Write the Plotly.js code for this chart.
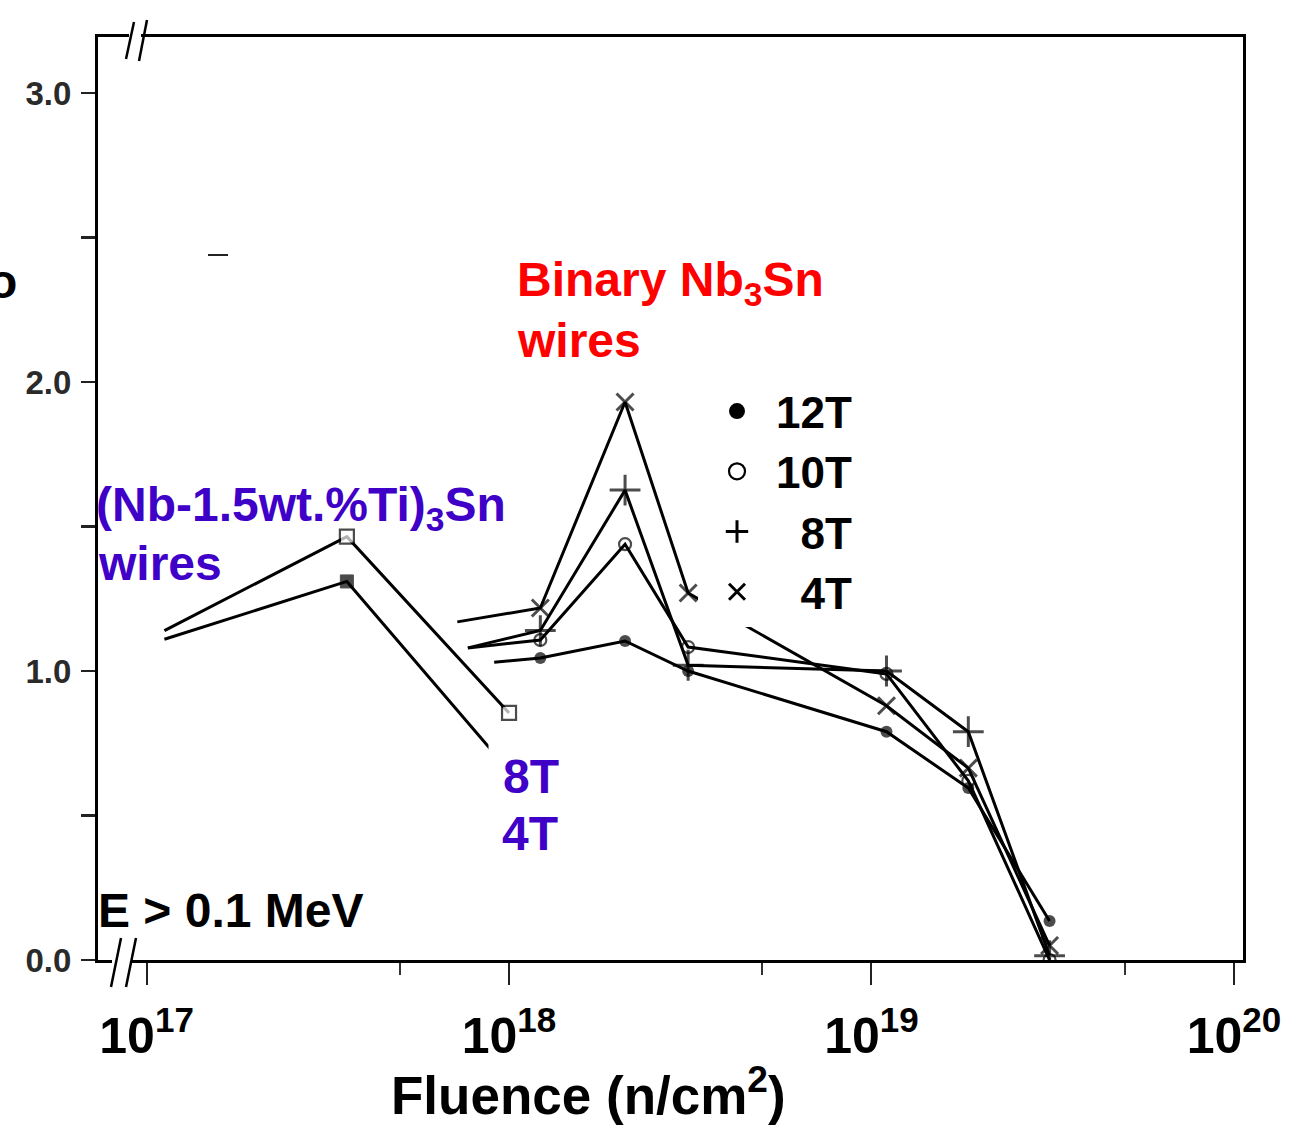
<!DOCTYPE html>
<html>
<head>
<meta charset="utf-8">
<script src="https://cdn.plot.ly/plotly-3.0.1.min.js"></script>
<style>
  html, body { margin: 0; padding: 0; background: #fff; }
  #chart { width: 1290px; height: 1128px; }
</style>
</head>
<body>
<div id="chart"></div>
<script>
// ---- (Nb-1.5wt.%Ti)3Sn wires: Jc ratio vs fluence ----
const tiFields = ['8T', '4T'];
const tiLeadFluence = [1.12e17, 1.12e17];   // where each curve enters the frame
const tiLeadValue = [1.14, 1.11];
const tiFluence = [3.57e17, 1.0e18];
const ti8T = [1.465, 0.855];
const ti4T = [1.31, 0.655];

// ---- Binary Nb3Sn wires ----
const binFields = ['12T', '10T', '8T', '4T'];
const binLeadFluence = [9.1e17, 7.7e17, 7.7e17, 7.2e17];
const binLeadValue = [1.03, 1.08, 1.08, 1.17];
const binFluence = [1.22e18, 2.09e18, 3.12e18, 1.10e19, 1.85e19, 3.10e19];
const bin12T = [1.045, 1.104, 1.00, 0.79, 0.595, 0.135];
const bin10T = [1.107, 1.439, 1.083, 0.99, 0.62, 0.0];
const bin8T = [1.14, 1.626, 1.02, 1.00, 0.79, 0.015];
const bin4T = [1.218, 1.931, 1.27, 0.88, 0.664, 0.05];

// ---- axis ticks ----
const xMajor = [1e17, 1e18, 1e19, 1e20];
const xMajorText = ['10<sup>17</sup>', '10<sup>18</sup>', '10<sup>19</sup>', '10<sup>20</sup>'];
const xMinor = [5e17, 5e18, 5e19];
const yTicks = [0, 0.5, 1.0, 1.5, 2.0, 2.5, 3.0];
const yTickText = ['0.0', '', '1.0', '', '2.0', '', '3.0'];

const FONT = 'Liberation Sans, Arial, Helvetica, sans-serif';
const INK = '#000';
const RED = '#ff0000';
const VIOLET = '#3f00c8';

const binMarkers = {
  '12T': { symbol: 'circle', size: 12, color: INK, line: { width: 0 } },
  '10T': { symbol: 'circle-open', size: 12, color: INK, line: { width: 2.2, color: INK } },
  '8T':  { symbol: 'cross-thin-open', size: 22, color: INK, line: { width: 3, color: INK } },
  '4T':  { symbol: 'x-thin-open', size: 17, color: INK, line: { width: 3, color: INK } }
};
const tiMarkers = {
  '8T': { symbol: 'square', size: 14, color: '#fff', line: { width: 2.2, color: INK } },
  '4T': { symbol: 'square', size: 13, color: INK, line: { width: 1, color: INK } }
};

const traces = [];

// lead-in + measured points, marker hidden on the entry point
function addSeries(name, leadX, leadY, xs, ys, marker) {
  const x = [leadX].concat(xs);
  const y = [leadY].concat(ys);
  const sizes = [0].concat(xs.map(() => marker.size));
  traces.push({
    type: 'scatter', mode: 'lines+markers', name: name, showlegend: false,
    x: x, y: y,
    line: { color: INK, width: 3 },
    marker: Object.assign({}, marker, { size: sizes }),
    hoverinfo: 'x+y+name'
  });
}

addSeries('(Nb-1.5wt.%Ti)3Sn 8T', tiLeadFluence[0], tiLeadValue[0], tiFluence, ti8T, tiMarkers['8T']);
addSeries('(Nb-1.5wt.%Ti)3Sn 4T', tiLeadFluence[1], tiLeadValue[1], tiFluence, ti4T, tiMarkers['4T']);

const binSeries = [bin12T, bin10T, bin8T, bin4T];
binFields.forEach((f, i) => {
  addSeries('Binary Nb3Sn ' + f, binLeadFluence[i], binLeadValue[i], binFluence, binSeries[i], binMarkers[f]);
});

// key entries for the binary-wire field symbols (drawn at the largest key size)
const keyNames = ['12T', '10T', '\u20078T', '\u20074T'];
binFields.forEach((f, i) => {
  const m = Object.assign({}, binMarkers[f], { size: 16 });
  traces.push({
    type: 'scatter', mode: 'markers', name: keyNames[i], showlegend: true,
    x: [null], y: [null], marker: m, hoverinfo: 'skip'
  });
});

// pixel helpers for layout decorations (plot area: x 98..1243, y 37..960)
const L = 98, R = 1243, T = 37, B = 960;
const PX = (x) => (x - L) / (R - L);
const PY = (y) => (B - y) / (B - T);

function label(text, x, y, color, size, opts) {
  return Object.assign({
    xref: 'paper', yref: 'paper', x: PX(x), y: PY(y),
    xanchor: 'left', yanchor: 'middle', showarrow: false, align: 'left',
    text: text, font: { family: FONT, size: size, color: color, weight: 'bold' }
  }, opts || {});
}

const annotations = [
  label('Binary Nb<sub>3</sub>Sn', 515, 283, RED, 48),
  label('wires', 515, 340, RED, 48),
  label('(Nb-1.5wt.%Ti)<sub>3</sub>Sn', 94, 508, VIOLET, 48),
  label('wires', 96, 563, VIOLET, 48),
  label('8T', 488, 776, VIOLET, 48, { bgcolor: '#fff', borderpad: 14 }),
  label('4T', 500, 833, VIOLET, 48),
  label('E > 0.1 MeV', 96, 910, INK, 48),
  label('o', 19, 281, INK, 48, { xanchor: 'right' }),
  label('Fluence (n/cm<sup>2</sup>)', 588, 1091, INK, 53, { xanchor: 'center', align: 'center' })
];

function seg(x0, y0, x1, y1, w, c) {
  return { type: 'line', xref: 'paper', yref: 'paper', layer: 'above',
           x0: PX(x0), y0: PY(y0), x1: PX(x1), y1: PY(y1),
           line: { color: c || INK, width: w || 2.5 } };
}
function blank(x0, y0, x1, y1) {
  return { type: 'rect', xref: 'paper', yref: 'paper', layer: 'above',
           x0: PX(x0), y0: PY(y0), x1: PX(x1), y1: PY(y1),
           fillcolor: '#fff', line: { width: 0 } };
}

const shapes = [
  // axis break on the top frame
  blank(129, 28, 141, 46),
  seg(126, 59, 134, 22), seg(139, 61, 147, 20),
  // axis break on the fluence axis
  blank(112, 955, 131, 968),
  seg(111, 987, 121, 938), seg(126, 987, 136, 938),
  // stray pen mark
  seg(208, 255, 228, 255, 2, '#222')
];

const layout = {
  width: 1290, height: 1128,
  margin: { l: L, r: 1290 - R, t: T, b: 1128 - B, pad: 0 },
  paper_bgcolor: '#fff', plot_bgcolor: '#fff',
  font: { family: FONT, color: INK },
  showlegend: true,
  legend: {
    x: PX(698), xanchor: 'left', y: PY(376), yanchor: 'top',
    bgcolor: '#fff', borderwidth: 0, itemwidth: 68, itemclick: false, itemdoubleclick: false,
    font: { family: FONT, size: 44, color: INK, weight: 'bold' }
  },
  xaxis: {
    type: 'log', range: [16.866, 20.025],
    showline: true, linecolor: INK, linewidth: 3, mirror: true,
    showgrid: false, zeroline: false,
    ticks: 'outside', ticklen: 22, tickwidth: 2, tickcolor: '#222',
    tickmode: 'array', tickvals: xMajor, ticktext: xMajorText,
    ticklabelstandoff: 8,
    tickfont: { family: FONT, size: 50, color: INK, weight: 'bold' },
    minor: { tickmode: 'array', tickvals: xMinor, ticks: 'outside', ticklen: 12, tickwidth: 2, tickcolor: '#333', showgrid: false }
  },
  yaxis: {
    range: [0, 3.194],
    showline: true, linecolor: INK, linewidth: 3, mirror: true,
    showgrid: false, zeroline: false,
    ticks: 'outside', ticklen: 14, tickwidth: 2.5, tickcolor: '#222',
    tickmode: 'array', tickvals: yTicks, ticktext: yTickText,
    ticklabelstandoff: 3,
    tickfont: { family: FONT, size: 33, color: '#2a2a2a', weight: 'bold' }
  },
  annotations: annotations,
  shapes: shapes
};

Plotly.newPlot('chart', traces, layout, { staticPlot: true, displayModeBar: false });
</script>
</body>
</html>
